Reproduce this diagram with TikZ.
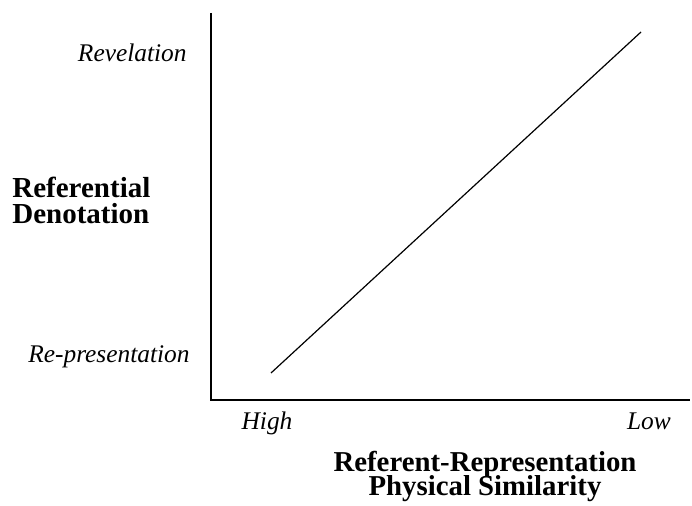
\documentclass[tikz,border=0pt]{standalone}
\usepackage{fontspec}
\setmainfont{Liberation Serif}
\newcommand\tightleading{\lineskiplimit=-20pt\relax}
\tikzset{
  tick/.style={font=\fontsize{12.7}{14}\selectfont\itshape, inner sep=0pt},
  title/.style={inner sep=0pt, align=center},
  axis/.style={line width=0.7pt},
}
\begin{document}
\begin{tikzpicture}[x=0.5pt, y=-0.5pt]
  \useasboundingbox (0,0) rectangle (692,506);
  % axes
  \coordinate (top) at (211,13);
  \coordinate (origin) at (211,400);
  \coordinate (right) at (690,400);
  \draw[axis] (top) -- (origin) -- (right);
  % the line
  \coordinate (lo) at (271,373);
  \coordinate (hi) at (641,32);
  \draw[line width=0.6pt] (lo) -- (hi);

  \node[tick, anchor=base east] (revel) at (187,62) {Revelation};
  \node[tick, anchor=base east] (repres) at (190,363) {Re-presentation};
  \node[tick, anchor=base] (high) at (267,430) {High};
  \node[tick, anchor=base] (low) at (649,430) {Low};

  \node[title, font=\fontsize{14.5}{13}\selectfont\bfseries\tightleading, align=left, anchor=north west] (ylab) at (12,177) {Referential\\Denotation};
  \node[title, font=\fontsize{14.4}{12}\selectfont\bfseries\tightleading, anchor=north] (xlab) at (485,451) {Referent-Representation\\Physical Similarity};
\end{tikzpicture}
\end{document}
